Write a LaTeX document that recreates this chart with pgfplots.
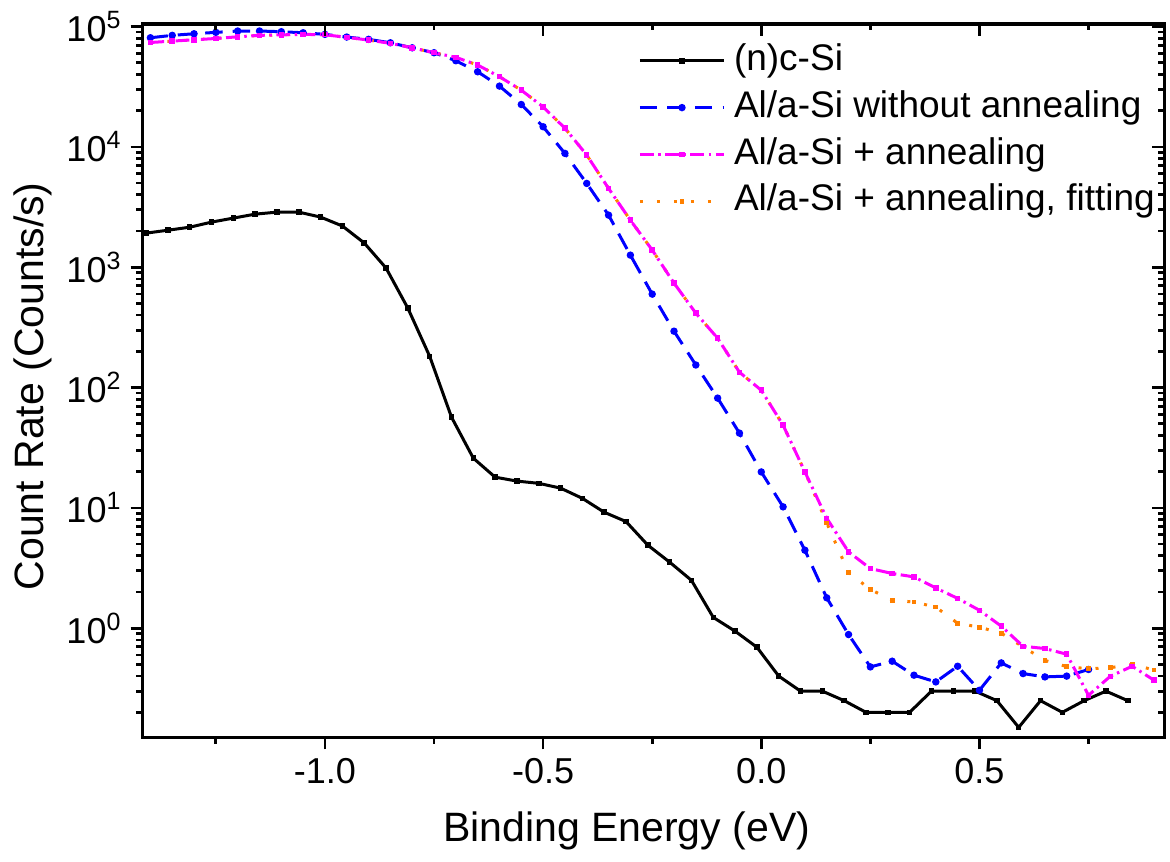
\documentclass[border=0pt]{standalone}
\usepackage{fontspec}
\setmainfont{Liberation Sans}
\usepackage{pgfplots}
\pgfplotsset{compat=1.18}
\definecolor{orgorange}{RGB}{255,128,0}
\definecolor{orgmagenta}{RGB}{255,0,255}
\definecolor{orgblue}{RGB}{0,0,255}

\begin{document}
\begin{tikzpicture}
\pgfplotsset{
  common/.style={
    width=408.4pt, height=285.2pt, scale only axis,
    xmin=-1.418, xmax=0.923, ymin=0.124, ymax=1.05e5,
    xtick={-1,-0.5,0,0.5},
    minor xtick={-1.25,-0.75,-0.25,0.25,0.75},
    axis line style={line width=1.2pt},
    major tick length=4.8pt, minor tick length=2.6pt,
    tick style={black, line width=1.1pt},
  },
  fitstyle/.style={orgorange, line width=1.2pt, dash pattern=on 1.2pt off 5.6pt,
    mark=square*, mark size=0.35pt, mark options={solid}},
}
\begin{semilogyaxis}[common,
    tick align=outside, xtick pos=left, ytick pos=left,
    xticklabels={-1.0,-0.5,0.0,0.5},
    yticklabel={10\textsuperscript{\pgfmathparse{int(round(\tick/2.302585))}\pgfmathresult}},
    ticklabel style={font=\fontsize{14.4}{17}\selectfont},
    xlabel={Binding Energy (eV)},
    ylabel={Count Rate (Counts/s)},
    label style={font=\fontsize{16.4}{19}\selectfont},
    xlabel style={at={(axis description cs:0.474,-0.131)}, anchor=center},
    ylabel style={at={(axis description cs:-0.1075,0.492)}, anchor=center},
    legend cell align=left,
    legend style={draw=none, fill=none, at={(0.485,0.975)}, anchor=north west,
      font=\fontsize{14.8}{18}\selectfont, inner xsep=0pt, inner ysep=0pt,
      row sep=3.9pt, column sep=3.4pt,
      nodes={inner sep=0pt, text height=11.3pt, text depth=3.5pt}},
    legend image code/.code={\draw[mark repeat=2,mark phase=2,#1]
      plot coordinates {(0pt,0pt) (16.8pt,0pt) (33.6pt,0pt)};},
]
% (n)c-Si
\addplot[black, line width=1.2pt, mark=square*, mark size=0.5pt] coordinates {
(-1.41,1920) (-1.36,2030) (-1.31,2150) (-1.26,2370) (-1.21,2560) (-1.16,2760)
(-1.11,2870) (-1.06,2870) (-1.01,2610) (-0.96,2200) (-0.91,1590) (-0.86,985)
(-0.81,457) (-0.76,182) (-0.71,56.8) (-0.66,25.9) (-0.61,18.0) (-0.56,16.7)
(-0.51,16.0) (-0.46,14.6) (-0.41,12.0) (-0.36,9.2) (-0.31,7.7) (-0.26,4.9)
(-0.21,3.54) (-0.16,2.5) (-0.11,1.23) (-0.06,0.945) (-0.01,0.695) (0.04,0.40)
(0.09,0.30) (0.14,0.30) (0.19,0.25) (0.24,0.20) (0.29,0.20) (0.34,0.20)
(0.39,0.30) (0.44,0.30) (0.49,0.30) (0.54,0.25) (0.59,0.15) (0.64,0.25)
(0.69,0.20) (0.74,0.25) (0.79,0.30) (0.84,0.25)};
\addlegendentry{(n)c-Si}
% Al/a-Si without annealing
\addplot[orgblue, line width=1.2pt, dash pattern=on 7pt off 4pt,
  mark=*, mark size=0.85pt, mark options={solid}] coordinates {
(-1.40,80700) (-1.35,84500) (-1.30,87100) (-1.25,89500) (-1.20,91800) (-1.15,91800)
(-1.10,90600) (-1.05,88800) (-1.00,86100) (-0.95,81800) (-0.90,78300) (-0.85,73300)
(-0.80,66600) (-0.75,60600) (-0.70,52000) (-0.65,42100) (-0.60,32000) (-0.55,22500)
(-0.50,14700) (-0.45,8830) (-0.40,4970) (-0.35,2710) (-0.30,1260) (-0.25,598)
(-0.20,294) (-0.15,154) (-0.10,81.7) (-0.05,41.8) (0.00,19.9) (0.05,10.2)
(0.10,4.45) (0.15,1.79) (0.20,0.886) (0.25,0.477) (0.30,0.532) (0.35,0.407)
(0.40,0.358) (0.45,0.483) (0.50,0.305) (0.55,0.515) (0.60,0.42) (0.65,0.394)
(0.70,0.40) (0.75,0.454)};
\addlegendentry{Al/a-Si without annealing}
% Al/a-Si + annealing, fitting (drawn below the measured curve)
\addplot[fitstyle, forget plot] coordinates {
(-1.40,73700) (-1.35,75700) (-1.30,77600) (-1.25,79600) (-1.20,82200) (-1.15,84500)
(-1.10,85300) (-1.05,86100) (-1.00,85500) (-0.95,81300) (-0.90,77200) (-0.85,72500)
(-0.80,66600) (-0.75,60600) (-0.70,55500) (-0.65,47900) (-0.60,38300) (-0.55,29600)
(-0.50,21500) (-0.45,14300) (-0.40,8550) (-0.35,4520) (-0.30,2460) (-0.25,1390)
(-0.20,738) (-0.15,415) (-0.10,257) (-0.05,134) (0.00,95) (0.05,48.7)
(0.10,19.9) (0.15,7.5) (0.20,2.9) (0.25,2.1) (0.30,1.71) (0.35,1.65)
(0.40,1.5) (0.45,1.1) (0.50,1.02) (0.55,0.91) (0.60,0.70) (0.65,0.54)
(0.70,0.48) (0.75,0.46) (0.80,0.47) (0.85,0.50) (0.90,0.45)};
% Al/a-Si + annealing
\addplot[orgmagenta, line width=1.2pt, dash pattern=on 5.5pt off 1.8pt on 1pt off 1.8pt,
  mark=square*, mark size=0.5pt, mark options={solid}] coordinates {
(-1.40,73700) (-1.35,75700) (-1.30,77600) (-1.25,79600) (-1.20,82200) (-1.15,84500)
(-1.10,85300) (-1.05,86100) (-1.00,85500) (-0.95,81300) (-0.90,77200) (-0.85,72500)
(-0.80,66600) (-0.75,60600) (-0.70,55500) (-0.65,47900) (-0.60,38300) (-0.55,29600)
(-0.50,21500) (-0.45,14300) (-0.40,8550) (-0.35,4520) (-0.30,2460) (-0.25,1390)
(-0.20,738) (-0.15,415) (-0.10,257) (-0.05,134) (0.00,95) (0.05,48.7)
(0.10,19.9) (0.15,8.2) (0.20,4.31) (0.25,3.13) (0.30,2.85) (0.35,2.67)
(0.40,2.16) (0.45,1.77) (0.50,1.41) (0.55,1.04) (0.60,0.708) (0.65,0.678)
(0.70,0.608) (0.75,0.277) (0.80,0.399) (0.85,0.483) (0.90,0.37)};
\addlegendentry{Al/a-Si + annealing}
\addlegendimage{fitstyle}
\addlegendentry{Al/a-Si + annealing, fitting}
\end{semilogyaxis}
% mirrored ticks on top and right, pointing inward
\begin{semilogyaxis}[common,
    tick align=inside, xtick pos=right, ytick pos=right,
    xticklabels={}, yticklabels={},
    ticklabel style={overlay},
]
\addplot[draw=none] coordinates {(0,1)};
\end{semilogyaxis}
\pgfresetboundingbox
\path ([shift={(-57pt,-49.6pt)}]current axis.south west)
  rectangle ([shift={(2.4pt,9.6pt)}]current axis.north east);
\end{tikzpicture}
\end{document}
